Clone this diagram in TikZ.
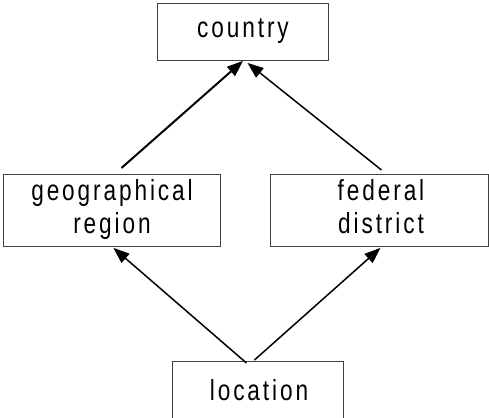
\documentclass[tikz,border=0pt]{standalone}
\usepackage{fontspec}
\setmainfont{Liberation Sans}[FakeStretch=0.78,LetterSpace=10]
\usetikzlibrary{arrows.meta,calc}
\begin{document}
\begin{tikzpicture}[x=1pt,y=-1pt,
  box/.style={draw=black!75,line width=0.9pt,inner sep=0pt,minimum width=#1,minimum height=72pt,anchor=north west},
  lbl/.style={anchor=base,inner sep=0pt,font=\fontsize{29}{33}\selectfont},
  conn/.style={line width=1.5pt,-{Triangle[length=16pt,width=12pt]}},
  connb/.style={line width=2pt,-{Triangle[length=16pt,width=12pt]}}]
\useasboundingbox (0,0) rectangle (489,417);
\node[box=171pt,minimum height=57pt] (country) at (157,3) {};
\node[box=217pt] (geo) at (3,174) {};
\node[box=218pt] (fed) at (270,174) {};
\node[box=171pt] (loc) at (172,361) {};
\node[lbl] (countryt) at (243,38) {country};
\node[lbl] (geot1) at (112,200) {geographical};
\node[lbl] (geot2) at (112,233) {region};
\node[lbl] (fedt1) at (381,200) {federal};
\node[lbl] (fedt2) at (381,233) {district};
\node[lbl] (loct) at (259,400) {location};
\draw[connb] ([shift={(9.5pt,6pt)}]geo.north) -- (country.south);
\draw[conn] ([shift={(2pt,4pt)}]fed.north) -- ([shift={(4.5pt,-2pt)}]country.south);
\draw[conn] ([shift={(-11.5pt,-2pt)}]loc.north) -- ([shift={(1.5pt,-1pt)}]geo.south);
\draw[conn] ([shift={(-3.5pt,1pt)}]loc.north) -- ([shift={(1pt,-1pt)}]fed.south);
\end{tikzpicture}
\end{document}
